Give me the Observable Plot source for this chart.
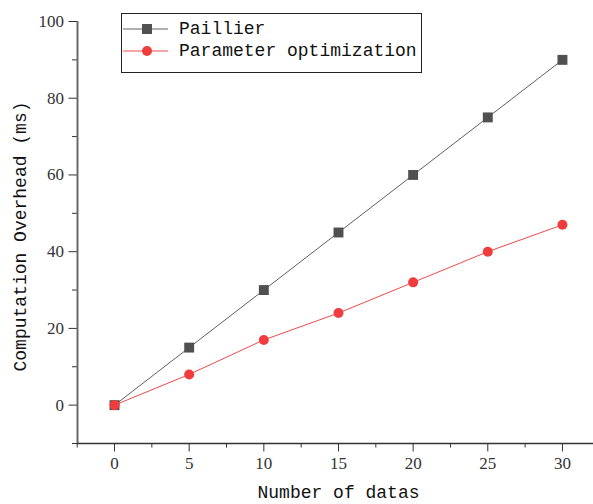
<!DOCTYPE html>
<html>
<head>
<meta charset="utf-8">
<script src="https://cdn.jsdelivr.net/npm/d3@7"></script>
<script src="https://cdn.jsdelivr.net/npm/@observablehq/plot@0.6"></script>
<style>
  html, body { margin: 0; padding: 0; background: #fff; }
  #wrap { position: relative; width: 593px; height: 504px; overflow: hidden; }
  #legend { position: absolute; left: 121px; top: 13px; width: 299px; height: 58px;
    border: 1.5px solid #222; background: #fff; font-family: "Liberation Mono", monospace;
    font-size: 18px; color: #111; }
  .row { position: absolute; left: 0; height: 22px; display: flex; align-items: center; }
  .row svg { display: block; }
  .row span { margin-left: 11px; white-space: nowrap; }
</style>
</head>
<body>
<div id="wrap"></div>
<script>
const xValues = [0, 5, 10, 15, 20, 25, 30];
const paillier = [0, 15, 30, 45, 60, 75, 90];
const paramOpt = [0, 8, 17, 24, 32, 40, 47];
const seriesNames = ["Paillier", "Parameter optimization"];
const xTicks = [0, 5, 10, 15, 20, 25, 30];
const xMinor = [-2.5, 2.5, 7.5, 12.5, 17.5, 22.5, 27.5];
const yTicks = [0, 20, 40, 60, 80, 100];
const yMinor = [-10, 10, 30, 50, 70, 90];
const xTitle = "Number of datas";
const yTitle = "Computation Overhead (ms)";

const xDomain = [-2.48, 32.08];
const yDomain = [-10, 100];

const dataA = xValues.map((x, i) => ({x, y: paillier[i]}));
const dataB = xValues.map((x, i) => ({x, y: paramOpt[i]}));

const grey = "#505050", greyLine = "#606060";
const red = "#f03c3c", redLine = "#f24a4a";

const chart = Plot.plot({
  width: 593, height: 504,
  marginLeft: 77, marginRight: 0, marginTop: 21, marginBottom: 61,
  x: {domain: xDomain},
  y: {domain: yDomain},
  style: {background: "white", overflow: "visible"},
  marks: [
    Plot.axisX(xMinor, {tickSize: 4.5, tickFormat: () => "", label: null, stroke: "#333"}),
    Plot.axisX(xTicks, {tickSize: 8.5, tickPadding: 5, label: null, stroke: "#333",
      fontFamily: "Liberation Serif", fontSize: 17, fill: "#333"}),
    Plot.axisY(yMinor, {tickSize: 5, tickFormat: () => "", label: null, stroke: "#333"}),
    Plot.axisY(yTicks, {tickSize: 8.5, tickPadding: 5, label: null, stroke: "#333",
      fontFamily: "Liberation Serif", fontSize: 17, fill: "#333"}),
    Plot.ruleX([xDomain[0]], {stroke: "#6a6a6a", strokeWidth: 2}),
    Plot.ruleY([yDomain[0]], {stroke: "#333", strokeWidth: 1.5}),
    Plot.line(dataA, {x: "x", y: "y", stroke: greyLine, strokeWidth: 1}),
    Plot.line(dataB, {x: "x", y: "y", stroke: redLine, strokeWidth: 1}),
    Plot.dot(dataA, {x: "x", y: "y", symbol: "square", r: 5.6, fill: grey, stroke: "none"}),
    Plot.dot(dataB, {x: "x", y: "y", symbol: "circle", r: 5, fill: red, stroke: "none"}),
    Plot.text([xTitle], {frameAnchor: "bottom", textAnchor: "middle", dx: 3, dy: 49, lineAnchor: "middle",
      fontFamily: "Liberation Mono", fontSize: 18, fill: "#111"}),
    Plot.text([yTitle], {frameAnchor: "left", textAnchor: "middle", dx: -57, dy: 4, rotate: -90, lineAnchor: "middle",
      fontFamily: "Liberation Mono", fontSize: 18, fill: "#111"})
  ]
});
const wrap = document.getElementById("wrap");
wrap.appendChild(chart);

// legend
const legend = document.createElement("div");
legend.id = "legend";
const defs = [
  {name: seriesNames[0], line: greyLine, fill: grey, shape: "square", top: 4},
  {name: seriesNames[1], line: redLine, fill: red, shape: "circle", top: 26}
];
for (const d of defs) {
  const row = document.createElement("div");
  row.className = "row";
  row.style.top = d.top + "px";
  const marker = d.shape === "square"
    ? `<rect x="20" y="6" width="10" height="10" fill="${d.fill}"/>`
    : `<circle cx="25" cy="11" r="5" fill="${d.fill}"/>`;
  row.innerHTML = `<svg width="46" height="22"><line x1="1" x2="46" y1="11" y2="11" stroke="${d.line}" stroke-width="1"/>${marker}</svg><span>${d.name}</span>`;
  legend.appendChild(row);
}
wrap.appendChild(legend);
</script>
</body>
</html>
